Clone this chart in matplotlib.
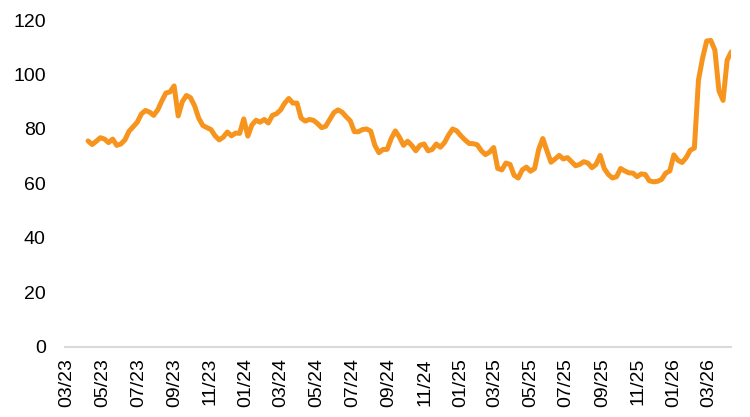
import matplotlib
matplotlib.use("Agg")
import matplotlib.pyplot as plt
import matplotlib.dates as mdates
import pandas as pd

# weekly index level
start_date = "2023-04-06"
values = [
    75.6, 74.3, 75.5, 76.8, 76.3, 75.0, 76.3, 74.0, 74.5, 76.0,
    79.2, 80.8, 82.5, 85.5, 86.8, 86.2, 85.0, 87.0, 90.3, 93.2,
    93.6, 95.8, 84.8, 90.0, 92.3, 91.5, 88.5, 84.0, 81.3, 80.5,
    79.8, 77.5, 76.0, 77.0, 78.9, 77.5, 78.5, 78.4, 83.7, 77.4,
    81.5, 83.2, 82.5, 83.5, 82.2, 85.0, 85.6, 87.0, 89.5, 91.2,
    89.5, 89.5, 84.0, 82.9, 83.5, 83.2, 82.0, 80.5, 81.0, 83.5,
    86.0, 87.0, 86.2, 84.5, 83.0, 79.0, 79.0, 79.8, 80.0, 79.2,
    74.0, 71.3, 72.5, 72.5, 76.5, 79.3, 77.0, 74.0, 75.5, 74.0,
    72.0, 74.0, 74.5, 72.0, 72.5, 74.5, 73.3, 75.0, 77.8, 80.0,
    79.3, 77.5, 76.0, 74.7, 74.6, 74.2, 72.0, 70.6, 71.5, 73.2,
    65.5, 65.0, 67.5, 67.0, 63.0, 62.0, 65.0, 66.0, 64.5, 65.5,
    72.5, 76.5, 72.0, 67.8, 69.0, 70.3, 69.0, 69.5, 68.0, 66.5,
    67.0, 68.0, 67.5, 65.8, 67.0, 70.3, 65.5, 63.3, 62.0, 62.5,
    65.5, 64.6, 63.9, 63.8, 62.5, 63.5, 63.3, 61.0, 60.6, 60.8,
    61.5, 63.8, 64.6, 70.5, 68.5, 67.7, 69.5, 72.2, 73.0, 98.0,
    106.0, 112.3, 112.5, 109.0, 94.0, 90.5, 105.3, 108.3,
]
dates = pd.date_range(start_date, periods=len(values), freq="7D")

plt.rcParams["font.family"] = ["Liberation Sans", "DejaVu Sans"]

fig = plt.figure(figsize=(7.5, 4.17), dpi=100)
ax = fig.add_axes([0.087, 0.168, 0.888, 0.784])

ax.plot(dates, values, color="#F7941D", linewidth=3.6, solid_joinstyle="round",
        solid_capstyle="round")

ax.set_ylim(0, 120)
ax.set_yticks(range(0, 121, 20))
ax.set_xlim(pd.Timestamp("2023-02-26"), dates[-1])
ax.xaxis.set_major_locator(mdates.MonthLocator(bymonth=[1, 3, 5, 7, 9, 11]))
ax.xaxis.set_major_formatter(mdates.DateFormatter("%m/%y"))

for side in ["top", "right", "left"]:
    ax.spines[side].set_visible(False)
ax.spines["bottom"].set_color("#d9d9d9")
ax.spines["bottom"].set_linewidth(1.5)

ax.tick_params(axis="y", length=0, pad=14, labelsize=14)
ax.tick_params(axis="x", length=0, pad=8, labelsize=14, rotation=90)

fig.savefig("out.png", dpi=100)
